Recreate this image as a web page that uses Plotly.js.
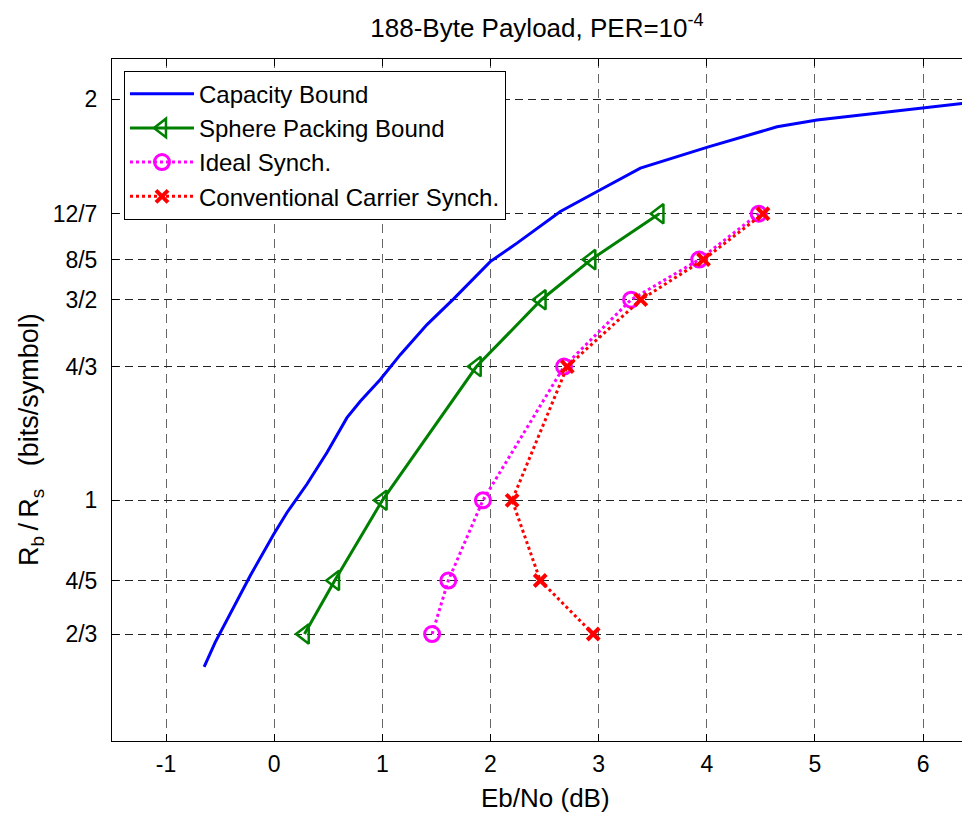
<!DOCTYPE html>
<html>
<head>
<meta charset="utf-8">
<script src="https://cdn.plot.ly/plotly-3.0.1.min.js"></script>
<style>html,body{margin:0;padding:0;background:#fff;}#chart{width:962px;height:814px;}</style>
</head>
<body>
<div id="chart"></div>
<script>
// Capacity bound curve
const capX = [-0.648,-0.546,-0.222,-0.006,0.117,0.302,0.488,0.673,0.796,0.981,1.166,1.413,1.659,1.998,2.245,2.646,3.016,3.386,4.015,4.650,5.020,6.006,6.364];
const capY = [0.585,0.646,0.812,0.915,0.969,1.040,1.119,1.206,1.247,1.301,1.363,1.438,1.502,1.595,1.641,1.720,1.774,1.828,1.881,1.931,1.948,1.979,1.989];
// Code rates (bits/symbol)
const rates = [2/3, 4/5, 1, 4/3, 3/2, 8/5, 12/7];
const sphereX = [0.28, 0.56, 1.00, 1.87, 2.47, 2.93, 3.56];
const idealX = [1.46, 1.61, 1.93, 2.68, 3.30, 3.93, 4.48];
const convX  = [2.95, 2.46, 2.20, 2.71, 3.39, 3.97, 4.52];
// Axis ticks
const yTickVals = [2/3, 4/5, 1, 4/3, 3/2, 8/5, 12/7, 2];
const yTickText = ["2/3", "4/5", "1", "4/3", "3/2", "8/5", "12/7", "2"];
const xTickVals = [-1, 0, 1, 2, 3, 4, 5, 6];
const xTickText = ["-1", "0", "1", "2", "3", "4", "5", "6"];
const seriesNames = ["Capacity Bound", "Sphere Packing Bound", "Ideal Synch.", "Conventional Carrier Synch."];

const FONT = "Liberation Sans, Arial, Helvetica, sans-serif";

const traces = [
  {x: capX, y: capY, name: seriesNames[0], mode: "lines",
   line: {color: "#0000ff", width: 3}},
  {x: sphereX, y: rates, name: seriesNames[1], mode: "lines+markers",
   line: {color: "#008000", width: 3},
   marker: {symbol: "triangle-left-open", size: 17, color: "#008000", line: {color: "#008000", width: 2.5}}},
  {x: idealX, y: rates, name: seriesNames[2], mode: "lines+markers",
   line: {color: "#ff00ff", width: 3, dash: "dot"},
   marker: {symbol: "circle-open", size: 15, color: "#ff00ff", line: {color: "#ff00ff", width: 3}}},
  {x: convX, y: rates, name: seriesNames[3], mode: "lines+markers",
   line: {color: "#ff0000", width: 3, dash: "dot"},
   marker: {symbol: "x-thin-open", size: 12, color: "#ff0000", line: {color: "#ff0000", width: 4}}}
];

const layout = {
  width: 962, height: 814,
  margin: {l: 112, r: 0, t: 59, b: 73, pad: 0},
  paper_bgcolor: "#ffffff", plot_bgcolor: "#ffffff",
  font: {family: FONT, size: 22, color: "#000"},
  title: {text: "188-Byte Payload, PER=10<sup>-4</sup>", font: {family: FONT, size: 26, color: "#000"},
          xref: "paper", x: 0.5, xanchor: "center", yref: "container", y: 1 - 28/814, yanchor: "middle"},
  xaxis: {
    range: [-1.5, 6.36], tickvals: xTickVals, ticktext: xTickText, ticks: "inside", ticklen: 7, tickcolor: "#000",
    showline: true, linecolor: "#000", linewidth: 1, mirror: "ticks",
    showgrid: true, gridcolor: "#666", gridwidth: 1, griddash: "9px,6px",
    zeroline: false, tickfont: {family: FONT, size: 23, color: "#000"}, ticklabelstandoff: 2
  },
  yaxis: {
    range: [0.4, 2.1], tickvals: yTickVals, ticktext: yTickText, ticks: "inside", ticklen: 7, tickcolor: "#000",
    showline: true, linecolor: "#000", linewidth: 1, mirror: false,
    showgrid: true, gridcolor: "#222", gridwidth: 1, griddash: "8px,5px",
    zeroline: false, tickfont: {family: FONT, size: 23, color: "#000"}, ticklabelstandoff: 9
  },
  legend: {
    x: 0.0141, y: 0.983, xanchor: "left", yanchor: "top",
    bgcolor: "#ffffff", bordercolor: "#000", borderwidth: 1, itemwidth: 64,
    font: {family: FONT, size: 24, color: "#000"}, tracegroupgap: 0
  },
  annotations: [
    {text: "R<sub>b</sub>\u2009/\u2009R<sub>s</sub>\u00a0\u00a0\u00a0(bits/symbol)", textangle: -90,
     xref: "paper", yref: "paper", x: (31 - 112) / 850, y: (741 - 440) / 682,
     xanchor: "center", yanchor: "middle",
     font: {family: FONT, size: 27, color: "#000"}, showarrow: false},
    {text: "Eb/No (dB)", xref: "paper", yref: "paper",
     x: (545 - 112) / 850, y: -(798 - 741) / 682, xanchor: "center", yanchor: "middle",
     font: {family: FONT, size: 26, color: "#000"}, showarrow: false}
  ]
};

Plotly.newPlot("chart", traces, layout, {displayModeBar: false, staticPlot: true});
</script>
</body>
</html>
